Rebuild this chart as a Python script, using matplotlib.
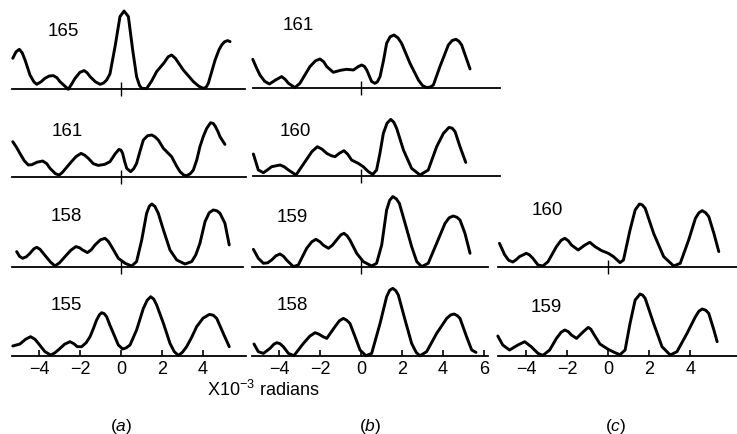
import matplotlib
matplotlib.use("Agg")
import matplotlib.pyplot as plt

plt.rcParams['font.family'] = ['Liberation Sans', 'DejaVu Sans']
plt.rcParams['mathtext.fontset'] = 'custom'
plt.rcParams['mathtext.rm'] = 'Liberation Sans'
plt.rcParams['mathtext.it'] = 'Liberation Sans:italic'

# ---------------- data (angle in 1e-3 rad, intensity in arbitrary units) ----------------
a165_x = [-5.28, -5.12, -4.96, -4.82, -4.68, -4.44, -4.25, -4.11, -3.90, -3.71, -3.50, -3.30, -3.12,
          -2.98, -2.57, -2.40, -2.24, -2.00, -1.80, -1.65, -1.51, -1.25, -1.02, -0.85, -0.70, -0.54,
          -0.29, -0.05, 0.15, 0.36, 0.57, 0.76, 0.90, 1.01, 1.25, 1.50, 1.74, 2.10, 2.30, 2.47, 2.65,
          3.04, 3.53, 3.80, 4.02, 4.15, 4.26, 4.59, 4.78, 4.91, 5.05, 5.20, 5.32]
a165_y = [31.0, 37.5, 40.0, 36.5, 29.3, 14.3, 7.5, 5.0, 7.5, 11.0, 13.3, 13.7, 11.5,
          7.7, 0.0, 5.5, 11.0, 17.0, 18.7, 16.5, 12.7, 7.5, 5.0, 6.3, 9.3, 15.3,
          42.7, 72.7, 78.3, 72.7, 39.3, 12.7, 4.0, 1.0, 0.7, 8.5, 17.7, 26.5, 32.5, 34.3, 31.0,
          19.3, 7.7, 3.0, 1.0, 2.0, 6.0, 29.3, 39.5, 44.3, 47.5, 48.7, 47.7]

a161_x = [-5.28, -5.10, -4.93, -4.72, -4.52, -4.35, -4.10, -3.82, -3.62, -3.46, -3.20, -3.01, -2.85,
          -2.49, -2.20, -1.95, -1.77, -1.59, -1.35, -1.11, -0.80, -0.54, -0.28, -0.10, 0.00, 0.08,
          0.18, 0.28, 0.47, 0.62, 0.76, 0.92, 1.09, 1.30, 1.50, 1.65, 1.82, 2.07, 2.47, 2.70, 2.88,
          3.05, 3.20, 3.38, 3.53, 3.70, 3.85, 4.02, 4.18, 4.37, 4.50, 4.59, 4.72, 4.83, 5.07]
a161_y = [35.0, 29.5, 23.3, 16.0, 11.7, 12.0, 14.5, 15.7, 13.0, 8.3, 3.0, 1.7, 4.5,
          13.3, 20.0, 23.3, 21.5, 18.3, 13.0, 11.3, 12.3, 15.0, 23.0, 27.3, 26.5, 23.3,
          15.0, 8.3, 5.0, 8.0, 13.3, 25.0, 36.7, 41.0, 41.7, 40.0, 36.7, 28.3, 20.0, 11.0, 5.0,
          1.8, 1.0, 3.0, 6.7, 17.0, 30.0, 40.5, 48.3, 54.0, 53.2, 50.7, 45.5, 40.0, 32.3]

a158_x = [-5.09, -4.95, -4.80, -4.62, -4.44, -4.25, -4.11, -3.95, -3.79, -3.46, -3.22, -3.00, -2.73,
          -2.45, -2.20, -2.02, -1.87, -1.64, -1.45, -1.27, -1.00, -0.78, -0.62, -0.46, -0.13, 0.20,
          0.52, 0.76, 1.01, 1.25, 1.38, 1.50, 1.65, 1.82, 2.07, 2.39, 2.72, 3.12, 3.45, 3.65, 3.85,
          4.10, 4.30, 4.50, 4.68, 4.83, 5.07, 5.28]
a158_y = [15.7, 11.0, 9.0, 10.5, 14.0, 18.5, 20.0, 18.0, 14.0, 5.7, 1.3, 4.5, 10.7,
          17.0, 20.7, 19.5, 17.3, 14.7, 17.5, 22.3, 27.5, 29.0, 26.0, 20.7, 9.0, 4.0,
          1.3, 5.7, 27.3, 54.0, 61.0, 63.3, 61.0, 54.0, 37.3, 17.3, 7.3, 3.3, 5.7, 12.5, 24.0,
          45.7, 54.5, 57.3, 56.5, 54.0, 44.0, 22.3]

a155_x = [-5.28, -4.93, -4.65, -4.41, -4.20, -4.03, -3.71, -3.43, -3.25, -3.06, -2.75, -2.49, -2.30,
          -2.13, -1.92, -1.70, -1.51, -1.35, -1.19, -1.05, -0.94, -0.82, -0.70, -0.55, -0.37, -0.13,
          0.08, 0.25, 0.44, 0.76, 1.09, 1.28, 1.45, 1.60, 1.74, 2.07, 2.39, 2.60, 2.80, 3.00, 3.20,
          3.45, 3.69, 4.00, 4.31, 4.50, 4.67, 4.99, 5.28]
a155_y = [9.7, 11.7, 16.5, 19.0, 16.5, 12.3, 4.0, 0.7, 2.5, 5.7, 11.5, 14.0, 12.0,
          9.0, 9.0, 13.0, 19.0, 27.0, 35.7, 41.0, 43.0, 42.0, 39.0, 31.0, 22.3, 10.7,
          6.7, 7.8, 10.7, 25.7, 47.3, 55.5, 59.0, 56.5, 50.7, 32.3, 12.3, 4.0, 0.3, 3.5, 9.0,
          18.5, 29.0, 37.5, 41.3, 40.5, 37.3, 22.3, 9.0]

b161_x = [-5.28, -5.10, -4.93, -4.70, -4.47, -4.15, -3.87, -3.70, -3.54, -3.22, -2.98, -2.49, -2.22,
          -2.00, -1.82, -1.67, -1.35, -1.00, -0.70, -0.37, -0.15, 0.03, 0.16, 0.28, 0.52, 0.68,
          0.80, 0.93, 1.10, 1.25, 1.42, 1.61, 1.80, 1.98, 2.39, 2.80, 3.00, 3.20, 3.38, 3.53, 3.85,
          4.26, 4.45, 4.63, 4.78, 4.91, 5.32]
b161_y = [29.0, 20.5, 13.3, 7.0, 4.3, 8.5, 11.7, 9.0, 5.0, 0.7, 5.0, 21.7, 27.5,
          29.3, 26.5, 21.7, 16.0, 18.0, 19.0, 18.3, 21.5, 23.3, 22.0, 18.3, 6.7, 5.0,
          6.5, 11.7, 28.0, 45.0, 51.5, 53.3, 50.5, 45.0, 25.0, 8.3, 2.8, 0.7, 1.3, 3.3, 21.7,
          43.3, 47.8, 49.0, 47.0, 43.3, 19.3]

b160_x = [-5.25, -5.01, -4.76, -4.55, -4.36, -3.95, -3.75, -3.54, -3.17, -2.73, -2.40, -2.13, -1.90,
          -1.67, -1.45, -1.27, -1.05, -0.83, -0.65, -0.46, -0.13, 0.11, 0.36, 0.57, 0.76, 0.92,
          1.09, 1.27, 1.45, 1.60, 1.74, 2.07, 2.47, 2.88, 3.28, 3.69, 4.02, 4.29, 4.45, 4.59, 4.83,
          5.11]
b160_y = [21.7, 5.7, 3.0, 6.0, 9.0, 10.7, 9.0, 5.7, 0.7, 14.0, 24.0, 29.0, 26.5,
          22.3, 20.0, 19.0, 22.5, 25.0, 21.5, 15.7, 12.3, 9.0, 4.0, 1.3, 5.7, 22.0,
          42.3, 52.5, 56.3, 53.5, 47.3, 25.7, 7.3, 0.7, 5.7, 29.0, 42.3, 48.3, 47.5, 44.0, 29.0,
          13.3]

b159_x = [-5.25, -5.01, -4.76, -4.55, -4.36, -4.15, -3.95, -3.78, -3.63, -3.30, -3.06, -2.65, -2.40,
          -2.20, -2.00, -1.85, -1.59, -1.40, -1.19, -0.98, -0.83, -0.68, -0.54, -0.21, 0.11, 0.52,
          0.76, 1.01, 1.25, 1.40, 1.55, 1.72, 1.87, 2.15, 2.47, 2.72, 2.96, 3.28, 3.69, 4.10, 4.30,
          4.50, 4.68, 4.83, 5.07, 5.32]
b159_y = [18.0, 9.0, 4.0, 4.5, 7.3, 11.5, 13.3, 11.0, 7.3, 0.7, 2.3, 19.0, 25.5,
          28.0, 25.5, 22.3, 19.0, 22.0, 27.3, 32.5, 34.0, 31.5, 27.3, 14.0, 5.7, 1.3,
          4.0, 22.3, 57.3, 67.0, 70.7, 68.5, 64.0, 44.0, 20.7, 5.7, 0.7, 4.0, 24.0, 44.0, 49.5,
          51.3, 50.0, 47.3, 34.0, 14.0]

b158_x = [-5.22, -5.01, -4.76, -4.44, -4.25, -4.11, -3.95, -3.79, -3.54, -3.27, -2.81, -2.50, -2.24,
          -2.05, -1.85, -1.67, -1.27, -1.05, -0.86, -0.70, -0.54, -0.29, -0.05, 0.24, 0.52, 0.93,
          1.25, 1.40, 1.55, 1.70, 1.82, 2.15, 2.47, 2.70, 2.88, 3.20, 3.69, 4.18, 4.38, 4.54, 4.70,
          4.83, 5.15, 5.40, 5.61]
b158_y = [11.7, 4.0, 2.3, 7.3, 11.5, 13.0, 12.0, 9.0, 2.3, 0.0, 12.3, 19.5, 23.0,
          21.5, 19.0, 17.3, 29.0, 35.0, 37.3, 35.5, 32.3, 19.0, 5.7, 0.0, 2.3, 32.3,
          59.0, 65.5, 67.3, 65.0, 60.7, 35.7, 12.3, 3.0, 0.0, 4.0, 22.3, 37.3, 40.8, 41.7, 40.0,
          37.3, 19.0, 5.7, 3.3]

c160_x = [-5.31, -5.06, -4.86, -4.66, -4.50, -4.33, -4.00, -3.85, -3.68, -3.43, -3.19, -2.94, -2.53,
          -2.30, -2.12, -1.95, -1.80, -1.47, -1.14, -0.90, -0.65, -0.33, 0.00, 0.25, 0.57, 0.74,
          1.06, 1.31, 1.52, 1.65, 1.80, 2.21, 2.70, 3.19, 3.51, 3.92, 4.25, 4.42, 4.58, 4.75, 4.90,
          5.15, 5.39]
c160_y = [24.0, 12.7, 7.0, 5.3, 7.5, 10.7, 14.0, 12.5, 9.0, 2.3, 1.3, 5.7, 20.7,
          27.0, 29.0, 26.5, 22.3, 17.3, 22.3, 25.0, 20.7, 16.7, 14.0, 10.7, 4.7, 7.3,
          37.3, 57.3, 63.3, 62.5, 59.0, 34.0, 10.7, 1.3, 4.0, 27.3, 49.0, 54.5, 56.7, 54.5, 50.7,
          34.0, 15.7]

c159_x = [-5.39, -5.15, -4.82, -4.41, -4.08, -3.76, -3.43, -3.19, -2.86, -2.53, -2.30, -2.12, -1.95,
          -1.80, -1.55, -1.22, -0.98, -0.85, -0.73, -0.41, 0.00, 0.33, 0.57, 0.82, 1.06, 1.31,
          1.55, 1.68, 1.80, 2.21, 2.62, 3.02, 3.35, 3.84, 4.25, 4.42, 4.58, 4.75, 4.90, 5.15, 5.31]
c159_y = [19.7, 10.7, 5.7, 10.7, 14.0, 9.0, 2.3, 0.3, 5.7, 17.3, 23.5, 25.7, 24.0,
          20.7, 17.3, 24.0, 28.3, 26.5, 22.3, 11.7, 6.3, 3.0, 1.0, 5.7, 32.3, 55.7,
          61.7, 60.5, 57.3, 32.3, 9.0, 0.7, 4.0, 22.3, 39.0, 44.5, 46.7, 45.5, 42.3, 25.7, 14.0]

panel_labels = ["165", "161", "158", "155", "161", "160", "159", "158", "160", "159"]
ticks_a = [-4, -2, 0, 2, 4]
ticks_b = [-4, -2, 0, 2, 4, 6]
ticks_c = [-4, -2, 0, 2, 4]
axis_label = "X10$^{-3}$ radians"
column_labels = ["($\\mathit{a}$)", "($\\mathit{b}$)", "($\\mathit{c}$)"]

# ---------------- layout ----------------
W, H = 737, 434
fig = plt.figure(figsize=(W / 100, H / 100), dpi=100)
SX = 20.5
XMIN, XMAX = -6.0, 7.0
YMIN, YMAX = -8.0, 84.0

curves = [(a165_x, a165_y), (a161_x, a161_y), (a158_x, a158_y), (a155_x, a155_y),
          (b161_x, b161_y), (b160_x, b160_y), (b159_x, b159_y), (b158_x, b158_y),
          (c160_x, c160_y), (c159_x, c159_y)]
# (x0 pixel, baseline pixel, label pixel pos, baseline span, ticks, is bottom row)
layout = [
    (121, 89.3, (63, 31), (-5.32, 6.05), [0], False),
    (121, 176.7, (67, 131), (-5.32, 6.1), [0], False),
    (121, 267.3, (66, 216), (-5.3, 5.95), [0], False),
    (121, 355.7, (66, 305), (-5.3, 6.1), ticks_a, True),
    (361, 88.3, (298, 26), (-5.27, 6.8), [0], False),
    (361, 175.7, (295, 131), (-5.27, 6.8), [0], False),
    (361, 267.3, (292, 217), (-5.3, 6.2), [0], False),
    (361, 355.7, (292, 305), (-5.3, 6.2), ticks_b, True),
    (608.3, 267.3, (547, 211), (-5.4, 6.5), [0], False),
    (608.3, 355.7, (546, 307), (-5.4, 6.5), ticks_c, True),
]

for (cx, cy), lab, (x0, base, lpos, span, ticks, is_bottom) in zip(curves, panel_labels, layout):
    left = (x0 + XMIN * SX) / W
    width = (XMAX - XMIN) * SX / W
    bottom = (H - base + YMIN) / H
    height = (YMAX - YMIN) / H
    ax = fig.add_axes([left, bottom, width, height])
    ax.patch.set_visible(False)
    ax.set_xlim(XMIN, XMAX)
    ax.set_ylim(YMIN, YMAX)
    for s in ['top', 'right', 'left']:
        ax.spines[s].set_visible(False)
    ax.spines['bottom'].set_position(('data', 0))
    ax.spines['bottom'].set_bounds(*span)
    ax.spines['bottom'].set_linewidth(1.3)
    ax.set_yticks([])
    ax.set_xticks(ticks)
    if is_bottom:
        ax.tick_params(axis='x', direction='in', length=4.5, width=1.2, pad=3.5,
                       labelsize=13, colors='black')
    else:
        ax.tick_params(axis='x', direction='inout', length=10, width=1.0, labelbottom=False)
    ax.plot(cx, cy, color='black', lw=2.1, solid_joinstyle='round',
            solid_capstyle='round', clip_on=False)
    fig.text(lpos[0] / W, 1 - lpos[1] / H, lab, ha='center', va='center', fontsize=13.5)

fig.text(263 / W, 1 - 390 / H, axis_label, ha='center', va='center', fontsize=13)
for xpix, t in zip([121, 370, 616], column_labels):
    fig.text(xpix / W, 1 - 426 / H, t, ha='center', va='center', fontsize=12.5)

fig.savefig("out.png", dpi=100)
